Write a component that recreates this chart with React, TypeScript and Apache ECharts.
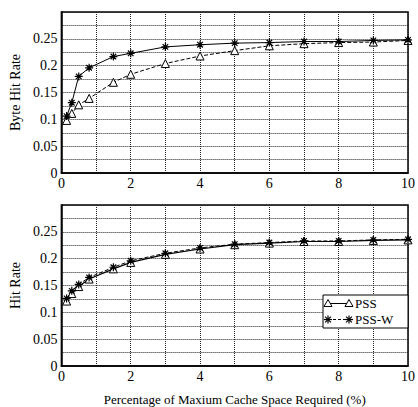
import React, { useEffect, useRef } from "react";
import * as echarts from "echarts";

const xVals = [0.15, 0.3, 0.5, 0.8, 1.5, 2, 3, 4, 5, 6, 7, 8, 9, 10];
const byteHitPSS = [0.098, 0.111, 0.127, 0.139, 0.169, 0.184, 0.204, 0.218, 0.228, 0.237, 0.241, 0.243, 0.244, 0.247];
const byteHitPSSW = [0.106, 0.131, 0.18, 0.196, 0.217, 0.223, 0.235, 0.239, 0.242, 0.243, 0.245, 0.245, 0.247, 0.248];
const hitPSS = [0.121, 0.135, 0.148, 0.162, 0.181, 0.193, 0.208, 0.218, 0.226, 0.229, 0.232, 0.232, 0.234, 0.235];
const hitPSSW = [0.126, 0.14, 0.152, 0.165, 0.184, 0.196, 0.21, 0.22, 0.227, 0.23, 0.233, 0.233, 0.235, 0.236];
const seriesNames = ["PSS", "PSS-W"];
const xAxisTitle = "Percentage of Maxium Cache Space Required (%)";
const yTitles = ["Byte Hit Rate", "Hit Rate"];

const FONT = "'Liberation Serif', 'Times New Roman', serif";
const STAR = "path://M5,0L5,10M0,5L10,5M1.5,1.5L8.5,8.5M1.5,8.5L8.5,1.5";

const pairs = (ys: number[]) => xVals.map((x, i) => [x, ys[i]]);

function triangleAt(cx: number, cy: number) {
  return {
    type: "polygon",
    shape: { points: [[cx, cy - 4], [cx + 4, cy + 3], [cx - 4, cy + 3]] },
    style: { fill: "#fff", stroke: "#000", lineWidth: 1 },
    z: 10,
  };
}
function starAt(cx: number, cy: number) {
  const r = 4;
  const d = 2.9;
  const segs = [
    [0, -r, 0, r],
    [-r, 0, r, 0],
    [-d, -d, d, d],
    [-d, d, d, -d],
  ];
  return {
    type: "group",
    z: 10,
    children: segs.map((s) => ({
      type: "line",
      shape: { x1: cx + s[0], y1: cy + s[1], x2: cx + s[2], y2: cy + s[3] },
      style: { stroke: "#000", lineWidth: 1.2 },
      z: 10,
    })),
  };
}

export default function App() {
  const ref = useRef<HTMLDivElement>(null);
  useEffect(() => {
    if (!ref.current) return;
    const chart = echarts.init(ref.current, undefined, { renderer: "svg" });
    const splitLine = { show: true, lineStyle: { type: "dotted" as const, color: "#222", width: 1 } };
    const xAxisBase = (gridIndex: number) => ({
      type: "value" as const,
      gridIndex,
      min: 0,
      max: 10,
      interval: 1,
      axisLine: { show: true, onZero: false, lineStyle: { color: "#000", width: 1.5 } },
      axisTick: { show: false },
      splitLine,
      axisLabel: {
        color: "#000",
        fontFamily: FONT,
        fontSize: 14,
        margin: 3,
        formatter: (v: number) => (Math.round(v) % 2 === 0 ? String(Math.round(v)) : ""),
      },
    });
    const yAxisBase = (gridIndex: number, name: string, nameGap: number) => ({
      type: "value" as const,
      gridIndex,
      min: 0,
      max: 0.3,
      interval: 0.025,
      name,
      nameLocation: "middle" as const,
      nameGap,
      nameTextStyle: { color: "#000", fontFamily: FONT, fontSize: 14 },
      axisLine: { show: true, lineStyle: { color: "#000", width: 1.5 } },
      axisTick: { show: false },
      splitLine,
      axisLabel: {
        color: "#000",
        fontFamily: FONT,
        fontSize: 14,
        margin: 4,
        formatter: (v: number) => {
          const k = Math.round(v * 1000);
          if (k % 50 !== 0 || k >= 300) return "";
          return k === 0 ? "0" : String(k / 1000);
        },
      },
    });
    const tri = { symbol: "triangle", symbolSize: 8, itemStyle: { color: "#fff", borderColor: "#000", borderWidth: 1 } };
    const star = { symbol: STAR, symbolSize: 8, itemStyle: { color: "#fff", borderColor: "#000", borderWidth: 1.2 } };

    const legendX = 323, legendY = 295, legendW = 85, legendH = 33;
    const row1 = 303.5, row2 = 319.5;
    const m1 = 328, m2 = 349;
    const textX = 355;
    chart.setOption({
      animation: false,
      backgroundColor: "#fff",
      grid: [
        { left: 55, right: 9, top: 12, height: 161, show: true, borderColor: "#000", borderWidth: 1.5, backgroundColor: "transparent" },
        { left: 57, right: 8, top: 205, height: 161, show: true, borderColor: "#000", borderWidth: 1.5, backgroundColor: "transparent" },
      ],
      xAxis: [
        xAxisBase(0),
        {
          ...xAxisBase(1),
          name: xAxisTitle,
          nameLocation: "middle",
          nameGap: 27,
          nameTextStyle: { color: "#000", fontFamily: FONT, fontSize: 13 },
        },
      ],
      yAxis: [yAxisBase(0, yTitles[0], 21), yAxisBase(1, yTitles[1], 28)],
      graphic: [
        {
          type: "rect",
          shape: { x: legendX, y: legendY, width: legendW, height: legendH },
          style: { fill: "#fff", stroke: "#000", lineWidth: 1 },
          z: 9,
        },
        {
          type: "line",
          shape: { x1: m1, y1: row1, x2: m2, y2: row1 },
          style: { stroke: "#000", lineWidth: 1 },
          z: 9,
        },
        triangleAt(m1, row1),
        triangleAt(m2, row1),
        {
          type: "text",
          x: textX,
          y: row1,
          style: { text: seriesNames[0], fill: "#000", font: `13px ${FONT}`, verticalAlign: "middle" },
          z: 10,
        },
        {
          type: "line",
          shape: { x1: m1, y1: row2, x2: m2, y2: row2 },
          style: { stroke: "#000", lineWidth: 1, lineDash: [3, 2] },
          z: 9,
        },
        starAt(m1, row2),
        starAt(m2, row2),
        {
          type: "text",
          x: textX,
          y: row2,
          style: { text: seriesNames[1], fill: "#000", font: `13px ${FONT}`, verticalAlign: "middle" },
          z: 10,
        },
      ],
      series: [
        {
          name: seriesNames[0], type: "line", xAxisIndex: 0, yAxisIndex: 0, data: pairs(byteHitPSS),
          ...tri, lineStyle: { color: "#000", width: 1, type: "dashed" },
        },
        {
          name: seriesNames[1], type: "line", xAxisIndex: 0, yAxisIndex: 0, data: pairs(byteHitPSSW),
          ...star, lineStyle: { color: "#000", width: 1, type: "solid" },
        },
        {
          name: seriesNames[0], type: "line", xAxisIndex: 1, yAxisIndex: 1, data: pairs(hitPSS),
          ...tri, lineStyle: { color: "#000", width: 1.2, type: "solid" },
        },
        {
          name: seriesNames[1], type: "line", xAxisIndex: 1, yAxisIndex: 1, data: pairs(hitPSSW),
          ...star, lineStyle: { color: "#000", width: 1, type: "dashed" },
        },
      ],
    });
    return () => chart.dispose();
  }, []);
  return <div ref={ref} style={{ position: "absolute", left: 0, top: 0, width: 418, height: 407 }} />;
}
